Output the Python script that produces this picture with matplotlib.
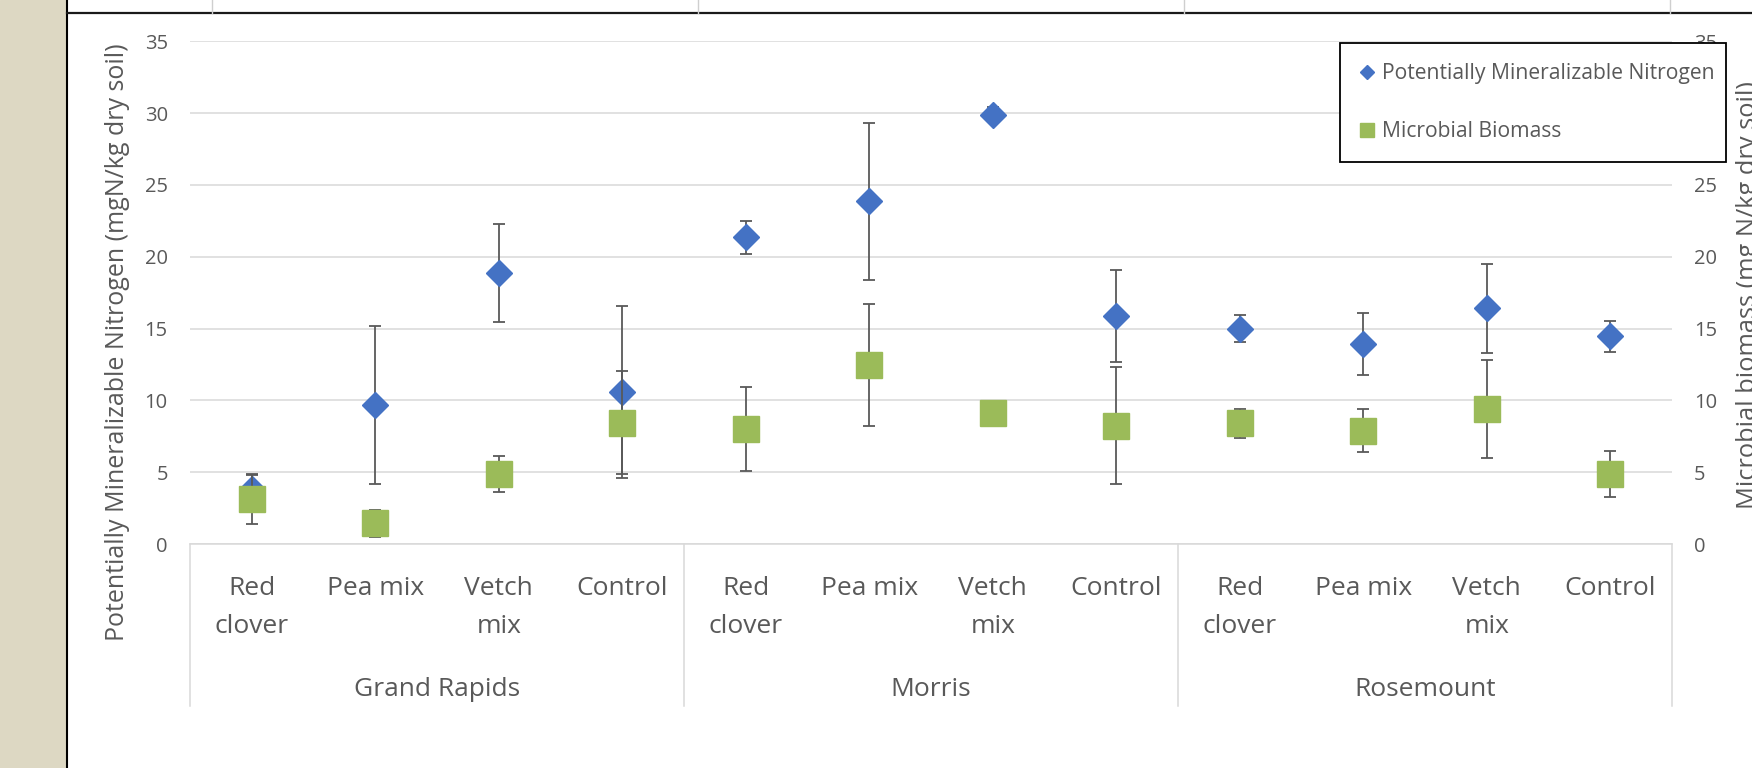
import matplotlib
matplotlib.use("Agg")
import matplotlib.pyplot as plt
import matplotlib.transforms as mtransforms
from matplotlib.lines import Line2D
from matplotlib.patches import Rectangle

# ---- data ----
sites = ["Grand Rapids", "Morris", "Rosemount"]
treatments = ["Red\nclover", "Pea mix", "Vetch\nmix", "Control"]

pmn = [3.8, 9.65, 18.85, 10.6, 21.35, 23.85, 29.9, 15.85, 15.0, 13.9, 16.4, 14.45]
pmn_err = [1.1, 5.5, 3.4, 6.0, 1.15, 5.45, 0.5, 3.2, 0.95, 2.15, 3.1, 1.05]
mb = [3.1, 1.45, 4.9, 8.45, 8.0, 12.45, 9.1, 8.25, 8.4, 7.9, 9.4, 4.85]
mb_err = [1.7, 0.95, 1.25, 3.6, 2.9, 4.25, 0.4, 4.1, 1.0, 1.5, 3.4, 1.6]
yticks = [0, 5, 10, 15, 20, 25, 30, 35]

BLUE, GREEN = "#4472C4", "#9BBB59"
TXT, GRID, ERR = "#595959", "#D9D9D9", "#595959"
BEIGE = "#DDD8C3"

W, H = 1752, 768
plt.rcParams["font.family"] = ["Open Sans", "DejaVu Sans"]
fig = plt.figure(figsize=(W / 100, H / 100), dpi=100)
fig.patch.set_facecolor("white")

# page decoration (document screenshot frame)
fig.patches.append(Rectangle((0, 0), 65 / W, 1, transform=fig.transFigure,
                             color=BEIGE, zorder=0))
fig.lines.append(Line2D([67 / W, 67 / W], [0, 1], transform=fig.transFigure,
                        color="black", lw=1.5))
fig.lines.append(Line2D([67 / W, 1], [1 - 13 / H, 1 - 13 / H], transform=fig.transFigure,
                        color="#1a1a1a", lw=1.6))
for xp in (212, 698, 1184, 1670):
    fig.lines.append(Line2D([xp / W, xp / W], [1 - 13 / H, 1], transform=fig.transFigure,
                            color="#cfcfcf", lw=1.0))

ax = fig.add_axes([190 / W, 1 - 544 / H, (1672 - 190) / W, (544 - 41.3) / H])
ax2 = ax.twinx()
x = list(range(len(pmn)))
for a in (ax, ax2):
    a.set_xlim(-0.5, len(pmn) - 0.5)
    a.set_ylim(0, 35)
    a.set_yticks(yticks)
    a.set_xticks([])
    for sp in a.spines.values():
        sp.set_visible(False)
    a.tick_params(axis="y", length=0, labelsize=14.5, labelcolor=TXT, pad=16)
ax.spines["bottom"].set_visible(True)
ax.spines["bottom"].set_color(GRID)
ax.spines["bottom"].set_linewidth(1.1)
ax.grid(axis="y", color=GRID, lw=1.1, zorder=0)
ax.set_axisbelow(True)

# series
ax.errorbar(x, pmn, yerr=pmn_err, fmt="none", ecolor=ERR, elinewidth=1.3,
            capsize=4.5, capthick=1.3, zorder=3)
ax.plot(x, pmn, ls="none", marker="D", ms=13.3, color=BLUE, mec=BLUE, zorder=4)
ax2.errorbar(x, mb, yerr=mb_err, fmt="none", ecolor=ERR, elinewidth=1.3,
             capsize=4.5, capthick=1.3, zorder=3)
ax2.plot(x, mb, ls="none", marker="s", ms=19, color=GREEN, mec=GREEN, zorder=4)

# two-level category axis
tr = mtransforms.blended_transform_factory(ax.transData, fig.transFigure)
for i, lab in enumerate(treatments * len(sites)):
    for k, line in enumerate(lab.split("\n")):
        yb = (595, 633)[k]
        ax.text(i, 1 - yb / H, line, transform=tr, ha="center", va="baseline",
                fontsize=19, color=TXT, clip_on=False)
n = len(treatments)
for j, s in enumerate(sites):
    ax.text(j * n + (n - 1) / 2, 1 - 696 / H, s, transform=tr, ha="center",
            va="baseline", fontsize=19, color=TXT, clip_on=False)
for j in range(len(sites) + 1):
    ax.add_line(Line2D([j * n - 0.5] * 2, [1 - 544 / H, 1 - 706 / H], transform=tr,
                       color=GRID, lw=1.1, clip_on=False))

fig.text(117 / W, 1 - 342 / H, "Potentially Mineralizable Nitrogen (mgN/kg dry soil)",
         rotation=90, ha="center", va="center", fontsize=18, color=TXT)
fig.text(1736 / W, 1 - 295 / H, "Microbial biomass (mg N/kg dry soil)",
         rotation=90, ha="left", va="center", fontsize=18.3, color=TXT)

handles = [Line2D([], [], ls="none", marker="D", ms=7.2, color=BLUE),
           Line2D([], [], ls="none", marker="s", ms=10, color=GREEN)]
leg = ax2.legend(handles, ["Potentially Mineralizable Nitrogen", "Microbial Biomass"],
                 loc="upper left", mode="expand",
                 bbox_to_anchor=(1340 / W, 1 - 43 / H, 386 / W, 0.0),
                 bbox_transform=fig.transFigure, fontsize=15.2, frameon=True,
                 fancybox=False, framealpha=1, edgecolor="black", labelspacing=1.75,
                 handlelength=0.7, handletextpad=0.35, borderpad=0.95, borderaxespad=0)
leg.get_frame().set_linewidth(1.3)
leg.set_zorder(10)
for t in leg.get_texts():
    t.set_color(TXT)

fig.savefig("out.png", dpi=100)
